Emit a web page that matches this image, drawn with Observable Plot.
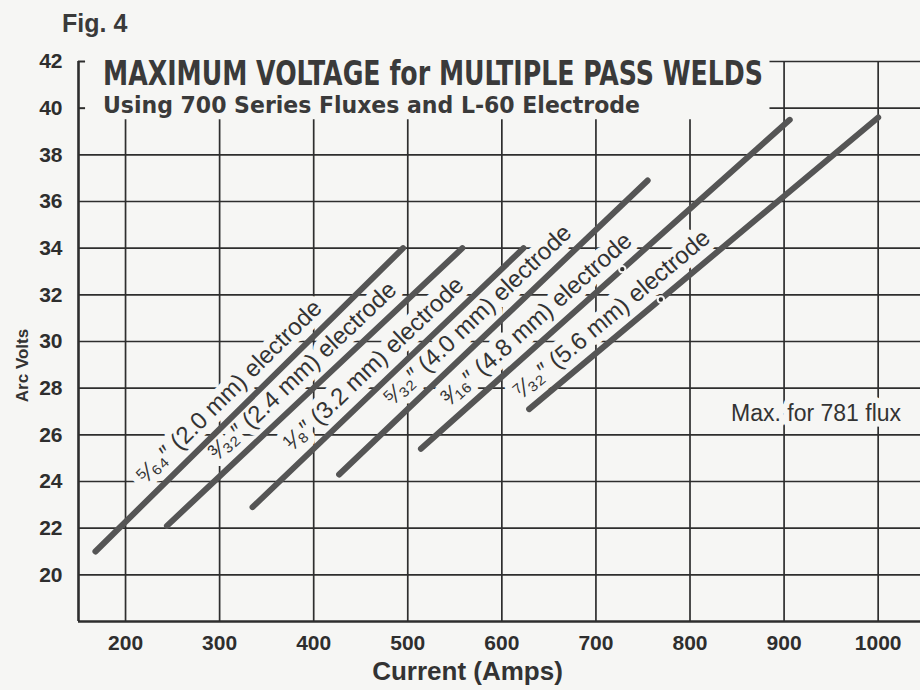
<!DOCTYPE html>
<html><head><meta charset="utf-8">
<script src="https://cdn.jsdelivr.net/npm/d3@7"></script>
<script src="https://cdn.jsdelivr.net/npm/@observablehq/plot@0.6"></script>
<style>
body{margin:0;background:#f6f6f4;}
#wrap{position:relative;width:920px;height:690px;overflow:hidden;}
#title{position:absolute;left:0;top:0;}
</style></head><body>
<div id="wrap"><div id="chart"></div>
<svg id="title" width="920" height="130">
 <text x="62" y="32" font-family="'Liberation Sans', Arial, sans-serif" font-weight="bold" font-size="25" fill="#3a3a3a">Fig. 4</text>
 <text x="103" y="85" textLength="660" lengthAdjust="spacingAndGlyphs" font-family="'Liberation Sans Narrow', 'DejaVu Sans Condensed', sans-serif" font-stretch="condensed" font-weight="bold" font-size="33.5" fill="#3a3a3a">MAXIMUM VOLTAGE for MULTIPLE PASS WELDS</text>
 <text x="103" y="113" textLength="537" lengthAdjust="spacingAndGlyphs" font-family="'Liberation Sans Narrow', 'DejaVu Sans Condensed', sans-serif" font-stretch="condensed" font-weight="bold" font-size="23" fill="#3a3a3a">Using 700 Series Fluxes and L-60 Electrode</text>
</svg></div>
<script>
// ---- data ----
const fractions = ["⁵⁄₆₄″", "³⁄₃₂″", "¹⁄₈″", "⁵⁄₃₂″", "³⁄₁₆″", "⁷⁄₃₂″"];
const millimetres = ["2.0", "2.4", "3.2", "4.0", "4.8", "5.6"];
const startAmps = [168, 244, 335, 427, 514, 629];
const startVolts = [21.0, 22.1, 22.9, 24.3, 25.4, 27.1];
const endAmps = [495, 558, 623, 755, 906, 1000];
const endVolts = [34.0, 34.0, 34.0, 36.9, 39.5, 39.6];
const flux781Amps = [728, 769];
const flux781Volts = [33.1, 31.8];
const fluxNote = "Max. for 781 flux";
const ampTicks = [200, 300, 400, 500, 600, 700, 800, 900, 1000];
const voltTicks = [20, 22, 24, 26, 28, 30, 32, 34, 36, 38, 40, 42];
const gridVolts = [20, 22, 24, 26, 28, 30, 32, 34, 36, 38];

// ---- layout ----
const W = 920, H = 690, mL = 78, mR = 0, mT = 61, mB = 69;
const xDom = [150, 1045], yDom = [18, 42];
const bg = "#f6f6f4", ink = "#2e2e2e", lineInk = "#555";
const xs = d3.scaleLinear(xDom, [mL, W - mR]);
const ys = d3.scaleLinear(yDom, [H - mB, mT]);

const electrodes = fractions.map((f, i) => ({
  label: `${f} (${millimetres[i]} mm) electrode`,
  a1: startAmps[i], v1: startVolts[i], a2: endAmps[i], v2: endVolts[i]
}));
const along = [0.19, 0.2, 0.18, 0.2, 0.1, 0.0];
const labels = electrodes.map((e, i) => {
  const sx = xs(e.a1), sy = ys(e.v1), ex = xs(e.a2), ey = ys(e.v2);
  const L = Math.hypot(ex - sx, ey - sy), ux = (ex - sx) / L, uy = (ey - sy) / L;
  const nx = uy, ny = -ux, off = 20;
  const px = sx + along[i] * (ex - sx) + off * nx, py = sy + along[i] * (ey - sy) + off * ny;
  return {label: e.label, a: xs.invert(px), v: ys.invert(py), rot: Math.atan2(uy, ux) * 180 / Math.PI};
});
const flux = flux781Amps.map((a, i) => ({a, v: flux781Volts[i]}));

const chart = Plot.plot({
  width: W, height: H, marginLeft: mL, marginRight: mR, marginTop: mT, marginBottom: mB,
  x: {domain: xDom}, y: {domain: yDom},
  style: {background: "transparent", color: ink, fontFamily: "'Liberation Sans', Arial, sans-serif", overflow: "visible"},
  marks: [
    Plot.ruleY(gridVolts, {x1: xDom[0], x2: xDom[1], stroke: ink, strokeWidth: 1.7}),
    Plot.ruleY([40, 42], {x1: 885, x2: xDom[1], stroke: ink, strokeWidth: 1.7}),
    Plot.ruleX(ampTicks.filter(a => a < 900), {y1: yDom[0], y2: 39.5, stroke: ink, strokeWidth: 1.7}),
    Plot.ruleX(ampTicks.filter(a => a >= 900), {y1: yDom[0], y2: yDom[1], stroke: ink, strokeWidth: 1.7}),
    Plot.ruleX([xDom[0]], {y1: yDom[0], y2: yDom[1], stroke: ink, strokeWidth: 2.6}),
    Plot.ruleY([yDom[0]], {x1: xDom[0], x2: xDom[1], stroke: ink, strokeWidth: 2.6}),
    Plot.ruleY([40, 42], {x1: xDom[0], x2: 157.5, stroke: ink, strokeWidth: 2}),
    Plot.axisY({ticks: voltTicks, tickSize: 0, tickPadding: 16, fontSize: 21, fontWeight: "bold", label: null, tickFormat: d => String(d)}),
    Plot.axisX({ticks: ampTicks, tickSize: 0, tickPadding: 14, fontSize: 21, fontWeight: "bold", label: null, tickFormat: d => String(d)}),
    Plot.text(labels, {x: "a", y: "v", text: "label", rotate: "rot", textAnchor: "start", fontSize: 24,
      fill: "#333", stroke: bg, strokeWidth: 14, strokeLinejoin: "round"}),
    Plot.text([fluxNote], {x: 934, y: 26.9, fontSize: 23, fill: "#333", stroke: bg, strokeWidth: 12, strokeLinejoin: "round"}),
    Plot.link(electrodes, {x1: "a1", y1: "v1", x2: "a2", y2: "v2", stroke: lineInk, strokeWidth: 6, strokeLinecap: "round"}),
    Plot.dot(flux, {x: "a", y: "v", r: 3.2, fill: ink, stroke: bg, strokeWidth: 2}),
    Plot.text(["Arc Volts"], {frameAnchor: "left", dx: -56, dy: 24, rotate: -90, textAnchor: "middle", fontSize: 17, fontWeight: "bold", fill: "#333"}),
    Plot.text(["Current (Amps)"], {frameAnchor: "bottom", dx: -32, dy: 58, fontSize: 26, fontWeight: "bold", fill: "#333"})
  ]
});
document.getElementById("chart").appendChild(chart);
</script>
</body></html>
